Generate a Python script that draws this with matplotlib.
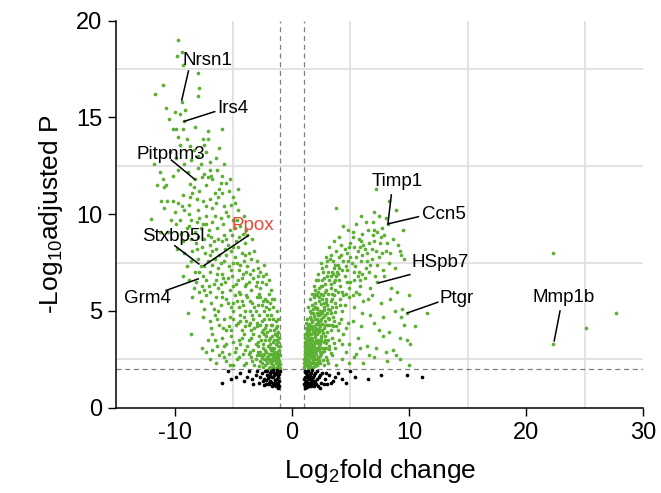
import numpy as np
import matplotlib.pyplot as plt

plt.rcParams['font.family'] = ['Liberation Sans', 'DejaVu Sans']
plt.rcParams['mathtext.fontset'] = 'custom'
plt.rcParams['mathtext.rm'] = 'Liberation Sans'
plt.rcParams['mathtext.default'] = 'regular'
plt.rcParams['axes.unicode_minus'] = False

# Geny obnizone (log2FC < -1, padj < 0.01)
down_genes = [
    (-9.7, 19.0), (-9.4, 18.4), (-9.8, 18.2), (-9.3, 17.7), (-8.0, 17.3),
    (-11.0, 16.7), (-11.7, 16.2), (-7.9, 16.5), (-8.0, 16.1), (-9.4, 15.8), (-10.8, 15.5),
    (-10.0, 15.3), (-9.6, 15.2), (-9.1, 15.4),
    (-10.5, 14.9), (-9.2, 14.8), (-10.2, 14.4), (-9.9, 14.4), (-9.3, 14.4), (-8.3, 14.5),
    (-7.2, 14.3), (-6.0, 14.4), (-9.7, 14.0), (-9.0, 13.9), (-7.6, 13.9), (-7.2, 13.9),
    (-9.6, 13.6), (-8.75, 13.5), (-6.2, 13.4), (-8.4, 13.3), (-8.0, 13.0), (-7.3, 13.2),
    (-7.0, 12.7), (-10.4, 13.2), (-9.9, 12.9), (-6.5, 12.9), (-7.8, 12.6), (-8.6, 12.8),
    (-5.8, 12.6), (-9.2, 12.6), (-7.5, 13.6),
    (-11.8, 12.6), (-11.3, 12.2), (-10.2, 12.0), (-9.75, 12.3), (-11.5, 11.5), (-10.9, 11.4),
    (-10.8, 11.5), (-11.0, 11.8), (-8.75, 11.55), (-8.3, 11.8), (-8.0, 12.4), (-7.5, 12.1),
    (-7.0, 12.3), (-6.4, 12.3), (-6.0, 12.0), (-6.8, 11.8), (-7.3, 11.5), (-6.1, 11.6),
    (-5.6, 11.6), (-5.4, 11.2), (-6.6, 11.1), (-7.9, 11.2), (-8.5, 11.1), (-8.1, 10.8),
    (-7.6, 10.7), (-7.0, 10.8), (-6.3, 10.9), (-5.0, 10.9), (-4.6, 11.3), (-9.3, 11.0),
    (-10.7, 10.7), (-10.2, 10.7), (-9.7, 10.6), (-11.2, 10.7), (-8.8, 10.5), (-5.8, 10.4),
    (-6.8, 10.3),
    (-12.0, 9.75), (-10.3, 9.7), (-9.6, 9.7), (-8.8, 10.0), (-8.6, 9.7), (-7.9, 9.8),
    (-7.3, 9.9), (-6.8, 9.6), (-6.1, 9.8), (-5.5, 9.9), (-5.0, 9.7), (-4.6, 10.2),
    (-4.4, 9.4), (-5.3, 9.2), (-6.4, 9.3), (-7.1, 9.2), (-7.8, 9.3), (-8.3, 9.1),
    (-9.0, 9.3), (-9.5, 9.0), (-10.6, 9.1), (-4.2, 9.0), (-5.8, 8.9), (-6.9, 8.8),
    (-7.5, 8.7), (-8.6, 8.7), (-9.3, 8.6), (-4.8, 8.6), (-5.5, 8.4),
    (-8.9, 8.9), (-8.2, 8.5), (-7.7, 8.3), (-7.0, 8.4), (-6.5, 8.2), (-6.0, 8.6),
    (-5.2, 8.1), (-4.6, 8.3), (-4.0, 8.5), (-3.7, 8.0), (-8.5, 8.1), (-9.8, 8.2),
    (-9.2, 8.0), (-6.2, 7.9), (-4.9, 7.8), (-3.4, 8.7),
    (-9.0, 7.3), (-9.3, 6.8), (-8.6, 7.6), (-8.0, 7.7), (-7.8, 7.3), (-7.5, 7.3),
    (-7.2, 7.6), (-6.8, 7.4), (-6.3, 7.2), (-5.8, 7.6), (-5.4, 7.3), (-5.0, 7.5),
    (-4.5, 7.1), (-4.1, 7.6), (-3.8, 7.3), (-3.3, 7.1), (-8.3, 7.0), (-7.0, 7.0),
    (-6.0, 6.9), (-5.1, 6.8), (-4.3, 6.7), (-3.6, 6.9), (-2.9, 7.2),
    (-8.8, 6.6), (-8.2, 6.5), (-7.7, 6.3), (-7.3, 6.6), (-6.7, 6.4), (-6.3, 6.2),
    (-5.7, 6.5), (-5.3, 6.1), (-4.8, 6.4), (-4.5, 6.0), (-4.0, 6.3), (-3.5, 6.1),
    (-3.0, 6.5), (-2.7, 6.2), (-7.9, 6.0), (-7.0, 6.0), (-6.0, 6.0), (-3.3, 6.7), (-2.5, 6.8),
    (-8.5, 5.7), (-7.8, 5.5), (-7.3, 5.8), (-6.9, 5.4), (-6.5, 5.7), (-6.1, 5.3),
    (-5.6, 5.6), (-5.2, 5.2), (-4.7, 5.5), (-4.2, 5.3), (-3.9, 5.8), (-3.4, 5.4),
    (-3.0, 5.7), (-2.6, 5.3), (-2.3, 5.6), (-2.0, 5.1), (-7.5, 5.1), (-6.3, 5.0),
    (-5.0, 5.0), (-3.6, 5.0), (-8.9, 4.9), (-4.4, 5.9), (-2.8, 5.9),
    (-7.6, 4.7), (-7.0, 4.5), (-6.6, 4.8), (-6.2, 4.3), (-5.8, 4.6), (-5.4, 4.2),
    (-5.0, 4.6), (-4.6, 4.4), (-4.1, 4.7), (-3.7, 4.3), (-3.3, 4.6), (-3.0, 4.2),
    (-2.6, 4.5), (-2.3, 4.1), (-2.0, 4.6), (-1.7, 4.3), (-6.9, 4.1), (-5.6, 4.0),
    (-4.3, 4.0), (-3.5, 4.0), (-2.8, 4.8), (-1.5, 4.0), (-8.6, 3.8),
    (-7.7, 3.1), (-7.2, 3.5), (-6.8, 3.8), (-6.4, 3.2), (-6.0, 3.6), (-5.6, 3.3),
    (-5.2, 3.7), (-4.8, 3.1), (-4.5, 3.5), (-4.1, 3.8), (-3.8, 3.2), (-3.5, 3.6),
    (-3.1, 3.3), (-2.8, 3.7), (-2.5, 3.1), (-2.3, 3.5), (-2.1, 3.9), (-1.9, 3.3),
    (-1.7, 3.7), (-1.5, 3.1), (-1.3, 3.5), (-1.2, 3.9), (-2.6, 3.9), (-1.8, 3.0), (-1.4, 3.3),
    (-6.5, 2.3), (-5.8, 2.6), (-5.3, 2.2), (-4.7, 2.5), (-4.2, 2.8), (-3.9, 2.3),
    (-3.5, 2.6), (-3.2, 2.2), (-2.9, 2.9), (-2.7, 2.4), (-2.5, 2.7), (-2.3, 2.2),
    (-2.2, 2.9), (-2.0, 2.5), (-1.9, 2.1), (-1.8, 2.8), (-1.7, 2.4), (-1.6, 2.2),
    (-1.5, 2.7), (-1.4, 2.3), (-1.3, 2.9), (-1.2, 2.5), (-1.1, 2.2), (-1.05, 2.7),
    (-1.6, 2.6), (-1.9, 2.4), (-2.1, 2.6), (-1.3, 2.1), (-1.1, 2.4), (-2.4, 2.5),
    (-4.9, 5.8), (-4.3, 5.5), (-3.8, 5.7), (-3.2, 5.2), (-2.7, 5.7), (-2.4, 5.0),
    (-2.1, 5.5), (-1.8, 4.8), (-1.6, 5.2), (-1.4, 4.5), (-1.9, 4.0), (-2.2, 4.3),
    (-2.5, 4.0), (-3.0, 4.4), (-3.4, 4.8), (-3.9, 4.5), (-4.4, 4.8), (-4.8, 4.3),
    (-5.3, 4.7), (-1.3, 4.2), (-1.2, 3.2), (-1.25, 3.7), (-1.35, 2.6), (-1.45, 3.8),
    (-1.55, 2.9), (-1.65, 3.4), (-1.75, 2.5), (-1.85, 3.6), (-1.95, 2.7), (-2.05, 3.2),
    (-2.15, 2.3), (-2.25, 3.7), (-2.35, 2.8), (-2.45, 3.3), (-2.55, 2.3), (-2.65, 3.5),
    (-2.75, 2.7), (-2.9, 3.2), (-3.05, 2.5), (-3.3, 3.0), (-3.6, 2.9), (-4.0, 3.0),
    (-4.4, 3.3), (-4.9, 2.9), (-5.4, 2.8), (-6.0, 2.9), (-1.15, 2.6), (-1.25, 2.3),
    (-1.1, 3.0), (-1.05, 2.25), (-1.5, 2.05), (-1.7, 2.05), (-2.0, 2.05),
    (-5.9, 6.7), (-6.4, 6.9), (-7.6, 6.8), (-3.9, 6.4), (-2.9, 6.8), (-2.2, 6.4),
    (-2.0, 5.9), (-5.6, 8.7), (-6.7, 8.6), (-7.3, 9.5), (-4.9, 9.3), (-3.9, 9.2),
    (-4.0, 7.9), (-8.1, 9.6), (-9.2, 10.2), (-5.2, 10.5), (-6.0, 11.1), (-7.2, 11.9),
    (-8.9, 12.2),
    (-8.4, 11.4), (-7.7, 11.9), (-6.9, 12.0), (-6.2, 11.3), (-5.3, 11.8), (-4.9, 10.6),
    (-5.6, 10.1), (-6.5, 10.6), (-7.3, 10.4), (-8.0, 10.2), (-8.7, 10.9), (-9.4, 10.4),
    (-10.0, 10.1), (-7.6, 9.5), (-6.6, 9.9), (-5.9, 9.5), (-4.7, 9.7), (-4.1, 9.9),
    (-3.8, 8.9), (-4.5, 8.8), (-5.1, 8.9), (-6.3, 8.7), (-7.2, 8.9), (-8.0, 8.8),
    (-8.8, 9.4), (-9.9, 9.5), (-10.9, 10.3), (-11.3, 9.1),
    (-8.1, 8.2), (-7.4, 8.0), (-6.8, 8.1), (-5.7, 8.2), (-5.0, 8.3), (-4.3, 8.0),
    (-3.2, 8.1), (-3.0, 7.6), (-3.5, 7.7), (-4.7, 7.5), (-5.6, 7.9), (-6.6, 7.7),
    (-7.0, 7.9), (-7.9, 7.0), (-6.1, 7.5), (-5.2, 7.1), (-4.4, 7.4), (-3.9, 7.0),
    (-2.7, 7.0), (-2.4, 7.4), (-2.2, 6.9), (-2.6, 6.5), (-3.1, 6.3), (-3.7, 6.5),
    (-4.2, 6.9), (-4.6, 6.6), (-5.0, 6.3), (-5.5, 6.7), (-6.1, 6.4), (-6.5, 6.6),
    (-7.1, 6.3), (-7.5, 6.1), (-8.4, 6.2), (-2.0, 6.6), (-1.8, 6.1), (-1.7, 5.6),
    (-6.7, 5.1), (-6.0, 5.7), (-5.5, 5.4), (-5.0, 5.4), (-4.5, 5.2), (-4.0, 5.0),
    (-3.6, 5.5), (-3.1, 5.0), (-2.9, 5.3), (-2.5, 5.5), (-2.2, 5.2), (-1.9, 5.4),
    (-1.5, 5.6), (-1.3, 5.0), (-1.2, 4.6), (-1.4, 4.1), (-1.6, 4.6), (-1.8, 4.3),
    (-2.1, 4.8), (-2.4, 4.6), (-2.7, 4.3), (-3.2, 4.1), (-3.6, 4.4), (-4.0, 4.2),
    (-4.4, 4.5), (-5.2, 4.0), (-5.9, 4.1), (-6.4, 4.6), (-6.6, 3.5), (-5.8, 3.2),
    (-5.0, 3.4), (-4.3, 3.6), (-3.7, 3.5), (-3.3, 3.8), (-2.9, 3.4), (-2.4, 3.8),
    (-2.0, 3.5), (-1.7, 3.1), (-1.5, 3.5), (-1.3, 3.8), (-1.1, 3.6), (-1.05, 3.2),
    (-1.1, 2.75), (-1.2, 2.15), (-1.35, 2.45), (-1.45, 2.85), (-1.55, 2.45), (-1.65, 2.75),
    (-1.8, 2.3), (-2.0, 2.75), (-2.2, 2.45), (-2.45, 2.1), (-2.6, 2.55), (-2.8, 2.15),
    (-3.0, 2.7), (-3.4, 2.4), (-3.7, 2.75), (-4.1, 2.2), (-4.5, 2.6), (-5.0, 2.2),
    (-5.6, 2.4), (-6.2, 2.7), (-7.0, 2.5), (-7.3, 2.9), (-6.8, 3.0), (-1.05, 2.05),
    (-1.2, 3.4), (-1.4, 2.6), (-1.6, 3.0), (-1.9, 3.1), (-2.3, 3.0), (-2.7, 2.9),
    (-1.25, 2.75), (-1.15, 3.9),
]

# Geny podwyzszone (log2FC > 1, padj < 0.01)
up_genes = [
    (7.2, 11.3), (3.8, 10.3), (8.3, 10.7), (8.9, 10.2), (7.05, 10.1), (8.2, 9.5),
    (5.5, 9.5), (4.8, 9.2), (5.2, 9.1), (6.5, 9.2), (7.05, 9.2), (7.3, 9.1),
    (9.5, 9.2), (6.0, 9.0), (7.7, 9.3), (4.4, 9.4),
    (6.9, 8.9), (7.9, 8.9), (7.5, 8.5), (8.1, 8.5), (9.1, 8.4), (3.6, 8.6),
    (5.9, 8.6), (5.0, 8.5), (6.2, 8.2), (5.6, 8.1), (4.5, 8.2), (7.2, 8.1),
    (8.6, 8.7), (6.6, 8.5), (4.0, 8.8), (9.2, 8.1), (7.7, 8.0), (3.2, 8.3),
    (9.35, 7.9), (9.6, 7.7), (4.2, 7.9), (3.3, 7.9), (3.0, 7.6), (3.7, 7.4),
    (4.4, 7.6), (5.0, 7.8), (5.4, 7.3), (5.9, 7.6), (6.3, 7.2), (6.8, 7.7),
    (7.3, 7.4), (7.8, 7.1), (8.3, 7.5), (2.6, 7.2), (3.4, 7.0), (4.0, 7.2),
    (4.7, 7.1), (5.7, 7.0), (6.6, 7.0), (2.9, 7.8), (8.8, 7.2), (4.8, 7.6),
    (2.2, 6.6), (2.6, 6.3), (3.0, 6.8), (3.3, 6.2), (3.7, 6.6), (4.1, 6.3),
    (4.5, 6.8), (4.9, 6.2), (5.3, 6.6), (5.8, 6.3), (6.2, 6.7), (6.7, 6.2),
    (7.3, 6.5), (8.5, 6.2), (2.0, 6.1), (3.5, 6.9), (4.3, 6.0), (5.5, 6.0),
    (6.0, 6.9), (7.9, 6.8), (2.8, 6.0), (3.9, 6.9),
    (1.7, 5.3), (1.9, 5.7), (2.1, 5.1), (2.3, 5.5), (2.5, 5.9), (2.7, 5.2),
    (2.9, 5.6), (3.1, 5.1), (3.3, 5.5), (3.6, 5.8), (3.8, 5.2), (4.1, 5.6),
    (4.5, 5.3), (4.9, 5.7), (5.3, 5.2), (6.1, 5.5), (6.8, 5.8), (7.6, 5.4),
    (9.4, 5.1), (8.4, 5.6), (2.0, 5.9), (2.6, 5.6), (3.4, 5.9), (4.3, 5.0),
    (5.7, 5.9), (1.5, 5.0),
    (1.4, 4.3), (1.5, 4.7), (1.6, 4.1), (1.7, 4.5), (1.8, 4.9), (1.9, 4.2),
    (2.0, 4.6), (2.1, 4.0), (2.2, 4.4), (2.3, 4.8), (2.4, 4.2), (2.5, 4.6),
    (2.7, 4.1), (2.8, 4.5), (3.0, 4.9), (3.2, 4.3), (3.5, 4.7), (3.8, 4.2),
    (4.2, 4.6), (4.6, 4.1), (5.2, 4.5), (5.9, 4.2), (6.7, 4.8), (9.8, 4.9),
    (11.5, 4.9), (9.35, 4.7), (10.5, 4.2), (7.4, 4.0), (2.6, 4.9), (1.3, 4.0),
    (1.2, 3.1), (1.25, 3.5), (1.3, 3.9), (1.35, 3.3), (1.4, 3.7), (1.5, 3.0),
    (1.55, 3.4), (1.6, 3.8), (1.7, 3.2), (1.75, 3.6), (1.8, 3.0), (1.9, 3.4),
    (2.0, 3.8), (2.1, 3.1), (2.2, 3.5), (2.3, 3.9), (2.4, 3.3), (2.5, 3.7),
    (2.7, 3.1), (2.8, 3.5), (3.0, 3.9), (3.2, 3.2), (3.4, 3.6), (3.7, 3.1),
    (4.0, 3.5), (4.4, 3.8), (4.9, 3.3), (5.6, 3.6), (6.4, 3.2), (7.8, 3.7),
    (9.8, 3.5), (10.1, 3.3), (8.6, 3.0), (1.45, 3.95), (1.65, 3.05),
    (1.05, 2.1), (1.1, 2.4), (1.1, 2.8), (1.15, 2.2), (1.2, 2.6), (1.25, 2.9),
    (1.3, 2.3), (1.35, 2.7), (1.4, 2.1), (1.45, 2.5), (1.5, 2.9), (1.55, 2.2),
    (1.6, 2.6), (1.7, 2.3), (1.75, 2.8), (1.8, 2.1), (1.9, 2.5), (2.0, 2.9),
    (2.1, 2.2), (2.2, 2.6), (2.4, 2.3), (2.5, 2.8), (2.7, 2.2), (2.9, 2.6),
    (3.1, 2.3), (3.4, 2.7), (3.8, 2.2), (4.3, 2.5), (4.9, 2.3), (5.5, 2.8),
    (6.1, 2.3), (7.0, 2.6), (8.1, 2.4), (9.2, 2.5), (10.0, 2.2), (1.02, 2.5), (1.08, 2.95),
    (1.15, 3.2), (1.2, 4.1), (1.3, 4.6), (1.4, 5.2), (1.5, 5.6), (1.6, 4.9),
    (1.7, 5.9), (1.85, 6.3), (1.95, 5.4), (2.05, 6.6), (2.15, 5.8), (2.25, 6.9),
    (2.35, 6.2), (2.45, 7.5), (2.55, 6.6), (2.65, 7.0), (2.75, 5.4), (2.85, 6.4),
    (2.95, 7.3), (3.05, 5.9), (3.15, 6.6), (3.25, 7.7), (3.35, 6.4), (3.45, 5.2),
    (3.55, 7.2), (3.65, 6.1), (3.75, 8.1), (3.85, 7.0), (3.95, 6.0), (4.05, 7.8),
    (1.12, 2.35), (1.18, 2.75), (1.22, 3.35), (1.28, 3.75), (1.32, 2.45), (1.38, 3.05),
    (1.42, 4.35), (1.48, 3.55), (1.52, 2.35), (1.58, 4.15), (1.62, 3.25), (1.68, 2.65),
    (1.72, 4.45), (1.78, 3.85), (1.82, 2.45), (1.88, 3.15), (1.92, 4.75), (1.98, 3.65),
    (2.02, 2.75), (2.08, 4.35), (2.12, 3.35), (2.18, 5.15), (2.22, 2.35), (2.28, 4.05),
    (2.32, 3.05), (2.38, 4.85), (2.42, 2.65), (2.48, 5.35), (2.52, 3.45), (2.58, 4.35),
    (2.62, 2.45), (2.68, 3.85), (2.72, 5.05), (2.78, 2.95), (2.82, 4.25), (2.88, 3.35),
    (2.92, 5.45), (2.98, 2.45), (3.05, 4.65), (3.15, 3.05), (3.25, 5.05), (3.35, 2.85),
    (3.45, 4.25), (3.6, 3.35), (3.7, 4.95), (3.9, 4.0), (4.1, 5.3), (4.3, 3.3),
    (4.6, 5.9), (4.8, 4.4), (5.0, 6.5), (5.3, 7.0), (5.6, 6.8), (6.0, 7.9),
    (6.4, 8.0), (5.2, 8.8), (6.3, 9.6), (4.7, 8.0), (5.8, 8.3),
    (1.1, 3.4), (1.15, 3.8), (1.2, 4.4), (1.25, 2.5), (1.3, 3.1), (1.35, 4.1),
    (1.4, 2.8), (1.45, 3.2), (1.5, 4.2), (1.55, 3.8), (1.6, 2.9), (1.65, 4.6),
    (1.7, 3.5), (1.75, 4.1), (1.8, 5.1), (1.85, 3.3), (1.9, 4.0), (1.95, 2.9),
    (2.0, 5.2), (2.05, 3.5), (2.1, 4.6), (2.15, 3.8), (2.2, 6.0), (2.25, 4.8),
    (2.3, 3.4), (2.35, 5.7), (2.4, 4.5), (2.45, 3.6), (2.5, 6.3), (2.55, 5.0),
    (2.6, 4.0), (2.65, 5.8), (2.7, 3.4), (2.75, 6.7), (2.8, 4.8), (2.9, 6.1),
    (3.0, 5.3), (3.1, 7.0), (3.2, 4.6), (3.3, 6.8), (3.4, 5.6), (3.5, 7.6),
    (3.6, 6.5), (3.7, 5.4), (3.8, 6.8), (3.9, 7.4), (4.0, 6.6), (4.2, 8.4),
    (4.3, 7.1), (4.4, 5.8), (4.6, 7.3), (4.7, 6.5), (4.9, 8.3), (5.1, 7.5),
    (5.3, 8.3), (5.5, 7.8), (5.7, 8.7), (6.1, 8.4), (6.4, 7.6), (6.8, 8.2),
    (7.0, 8.6), (7.4, 7.8), (7.6, 8.8), (8.0, 8.1), (8.4, 8.0), (6.9, 9.6),
    (7.4, 9.9), (8.0, 9.8), (5.9, 9.9), (6.7, 7.4), (7.1, 6.8), (5.2, 5.8),
    (5.8, 6.6), (4.0, 4.4), (3.6, 4.5), (3.3, 4.0), (3.1, 3.5), (2.9, 3.1),
    (2.6, 2.9), (2.3, 2.45), (2.05, 2.3), (1.85, 2.65), (1.65, 2.05), (1.95, 2.15),
    (1.35, 2.05), (1.15, 2.55), (1.25, 3.2),
    (1.05, 2.3), (1.08, 2.7), (1.1, 3.1), (1.13, 3.6), (1.18, 2.2), (1.22, 2.85),
    (1.27, 3.3), (1.33, 2.2), (1.37, 3.5), (1.42, 2.7), (1.47, 4.0), (1.52, 3.1),
    (1.57, 2.6), (1.63, 3.6), (1.67, 4.2), (1.72, 2.9), (1.77, 3.3), (1.83, 4.0),
    (1.87, 2.3), (1.93, 3.9), (1.97, 3.1), (2.03, 4.1), (2.07, 2.5), (2.13, 4.9),
    (2.17, 3.0), (2.23, 4.5), (2.27, 3.2), (2.33, 4.3), (2.37, 2.9), (2.43, 5.0),
    (2.55, 3.1), (2.65, 4.7), (2.85, 3.7), (3.0, 4.3), (3.3, 4.9), (3.5, 4.2),
    (6.0, 4.9), (6.5, 5.6), (7.0, 4.4), (7.8, 4.7), (8.3, 3.9), (8.0, 2.9),
    (7.2, 3.1), (6.6, 2.7), (5.8, 3.1), (5.3, 2.6), (4.6, 2.9), (9.0, 6.0),
    (9.6, 4.3), (8.8, 5.0), (8.9, 2.7), (10.0, 5.8), (9.2, 3.6),
    (22.3, 3.3), (22.3, 8.0), (25.1, 4.1), (27.7, 4.9),
]

# Geny nieistotne (padj >= 0.01)
ns_genes = [
    (-6.0, 1.3), (-5.5, 1.9), (-4.8, 1.6), (-4.4, 1.8), (-4.1, 1.4), (-3.7, 1.9),
    (-3.4, 1.5), (-3.1, 1.7), (-2.8, 1.3), (-2.6, 1.8), (-2.4, 1.5), (-2.2, 1.2),
    (-2.1, 1.7), (-1.9, 1.4), (-1.8, 1.9), (-1.7, 1.1), (-1.6, 1.6), (-1.5, 1.3),
    (-1.4, 1.8), (-1.3, 1.5), (-1.2, 1.2), (-1.15, 1.7), (-1.1, 1.4), (-1.05, 1.9),
    (-2.3, 1.9), (-2.0, 1.3), (-1.7, 1.6), (-1.4, 1.1), (-1.25, 1.9), (-1.6, 1.95),
    (-2.5, 1.4), (-3.0, 1.9),
    (-1.1, 1.1), (-1.2, 1.6), (-1.3, 1.3), (-1.35, 1.75), (-1.45, 1.45), (-1.55, 1.15),
    (-1.65, 1.85), (-1.75, 1.35), (-1.85, 1.65), (-1.95, 1.2), (-2.05, 1.55), (-2.15, 1.9),
    (-2.25, 1.45), (-2.35, 1.15), (-1.5, 1.7), (-1.2, 1.0), (-1.1, 1.75), (-1.3, 1.95),
    (-1.6, 1.25), (-1.9, 1.8), (-2.7, 1.6), (-3.3, 1.2), (-3.8, 1.6), (-5.2, 1.5),
    (1.05, 1.2), (1.1, 1.6), (1.15, 1.9), (1.2, 1.4), (1.25, 1.1), (1.3, 1.7),
    (1.35, 1.3), (1.4, 1.9), (1.45, 1.5), (1.5, 1.15), (1.55, 1.75), (1.6, 1.35),
    (1.7, 1.95), (1.75, 1.5), (1.8, 1.2), (1.9, 1.7), (2.0, 1.4), (2.1, 1.9),
    (2.2, 1.1), (2.3, 1.6), (2.5, 1.3), (2.6, 1.8), (2.8, 1.5), (3.0, 1.2),
    (3.2, 1.7), (3.5, 1.4), (3.9, 1.8), (4.3, 1.5), (5.0, 1.9), (5.4, 1.6),
    (6.5, 1.5), (7.6, 1.7), (9.8, 1.7), (11.1, 1.6), (1.1, 1.0), (1.3, 1.05), (2.4, 1.0),
    (1.05, 1.5), (1.1, 1.3), (1.15, 1.1), (1.2, 1.8), (1.25, 1.6), (1.3, 1.2),
    (1.35, 1.9), (1.4, 1.3), (1.45, 1.1), (1.5, 1.6), (1.55, 1.3), (1.6, 1.8),
    (1.65, 1.1), (1.7, 1.4), (1.8, 1.6), (1.85, 1.3), (1.9, 1.1), (2.0, 1.8),
    (2.05, 1.2), (2.15, 1.5), (2.4, 1.7), (2.7, 1.2), (2.9, 1.8), (3.3, 1.3),
    (3.7, 1.6), (4.6, 1.3), (1.08, 1.85), (1.22, 1.05), (1.38, 1.55), (1.62, 1.55),
]

# Podpisane geny: nazwa, punkt, pozycja tekstu, poczatek linii, kolor
labels = [
    ("Nrsn1", (-9.41, 15.9), (-9.35, 17.96), (-8.84, 17.4), "black"),
    ("Irs4", (-9.2, 14.8), (-6.34, 15.44), (-6.6, 15.3), "black"),
    ("Pitpnm3", (-8.3, 11.8), (-13.3, 13.1), (-10.3, 12.8), "black"),
    ("Timp1", (8.2, 9.5), (6.77, 11.7), (8.49, 11.0), "black"),
    ("Ccn5", (8.2, 9.5), (11.07, 10.0), (10.8, 9.87), "black"),
    ("HSpb7", (7.4, 6.45), (10.25, 7.5), (10.07, 6.88), "black"),
    ("Ptgr", (9.87, 4.9), (12.6, 5.64), (12.46, 5.45), "black"),
    ("Mmp1b", (22.4, 3.45), (20.55, 5.7), (22.9, 5.0), "black"),
    ("Ppox", (-7.5, 7.35), (-5.13, 9.4), (-3.72, 8.9), "#e8483a"),
    ("Stxbp5l", (-7.95, 7.43), (-12.8, 8.84), (-10.0, 8.37), "black"),
    ("Grm4", (-8.0, 6.66), (-14.35, 5.64), (-10.75, 6.06), "black"),
]

green = '#5cb033'
dash_col = '#7f7f7f'

fig = plt.figure(figsize=(6.61, 4.93), dpi=100)
ax = fig.add_axes([0.176, 0.173, 0.797, 0.785])

dx, dy = zip(*down_genes)
ux, uy = zip(*up_genes)
nx, ny = zip(*ns_genes)
ax.scatter(dx, dy, s=7, color=green, linewidths=0, zorder=3)
ax.scatter(ux, uy, s=7, color=green, linewidths=0, zorder=3)
ax.scatter(nx, ny, s=7, color='black', linewidths=0, zorder=3)

# progi
ax.axhline(2, color=dash_col, lw=0.9, ls=(0, (4, 3)), zorder=2)
ax.axvline(-1, color=dash_col, lw=0.9, ls=(0, (4, 3)), zorder=2)
ax.axvline(1, color=dash_col, lw=0.9, ls=(0, (4, 3)), zorder=2)

for name, pt, txt, start, col in labels:
    ax.plot([start[0], pt[0]], [start[1], pt[1]], color='black', lw=1.1, zorder=4)
    ax.text(txt[0], txt[1], name, color=col, fontsize=13.5, ha='left', va='center', zorder=5)

ax.set_xlim(-15, 30)
ax.set_ylim(0, 20)
ax.set_xticks([-10, 0, 10, 20, 30])
ax.set_yticks([0, 5, 10, 15, 20])
ax.set_xticks(np.arange(-10, 30, 5), minor=True)
ax.set_yticks(np.arange(2.5, 20, 2.5), minor=True)
ax.grid(which='minor', color='#e0e0e0', lw=1.3, zorder=0)
ax.set_axisbelow(True)
ax.tick_params(which='minor', length=0)
ax.tick_params(which='major', length=6, width=1, labelsize=17, pad=4)
for s in ['top', 'right']:
    ax.spines[s].set_visible(False)
for s in ['left', 'bottom']:
    ax.spines[s].set_linewidth(1.1)

ax.set_xlabel('Log$_2$fold change', fontsize=19, labelpad=10)
ax.set_ylabel('-Log$_{10}$adjusted P', fontsize=19, labelpad=8)

fig.savefig('out.png', dpi=100)
